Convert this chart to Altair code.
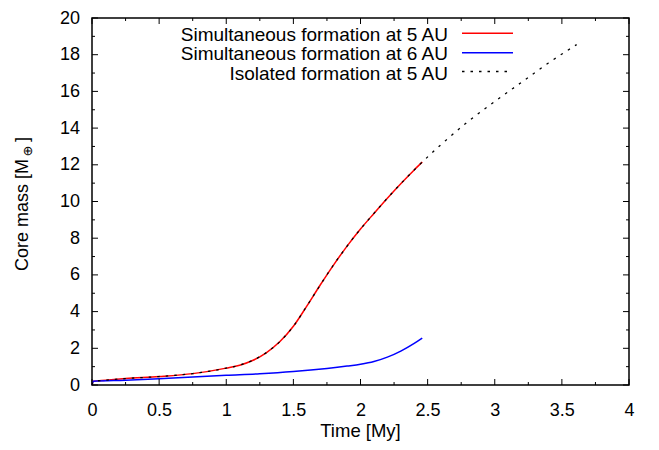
import altair as alt
import pandas as pd

# ---- data ----
red_t = [0, 0.01, 0.1, 0.25, 0.5, 0.75, 1.0, 1.1, 1.2, 1.3, 1.4, 1.5, 1.6, 1.7, 1.8, 1.9, 2.0, 2.1, 2.2, 2.3, 2.4, 2.46]
red_m = [0, 0.2, 0.26, 0.35, 0.46, 0.62, 0.92, 1.08, 1.35, 1.77, 2.37, 3.2, 4.3, 5.45, 6.55, 7.57, 8.5, 9.35, 10.18, 10.97, 11.72, 12.15]

blue_t = [0, 0.01, 0.25, 0.5, 0.75, 1.0, 1.25, 1.5, 1.75, 1.9, 2.0, 2.1, 2.2, 2.3, 2.4, 2.46]
blue_m = [0, 0.2, 0.26, 0.34, 0.44, 0.53, 0.61, 0.73, 0.9, 1.03, 1.13, 1.28, 1.52, 1.85, 2.27, 2.56]

iso_t = [0, 0.01, 0.1, 0.25, 0.5, 0.75, 1.0, 1.1, 1.2, 1.3, 1.4, 1.5, 1.6, 1.7, 1.8, 1.9, 2.0, 2.1, 2.2, 2.3, 2.4, 2.46,
         2.6, 2.8, 3.0, 3.2, 3.4, 3.61]
iso_m = [0, 0.2, 0.26, 0.35, 0.46, 0.62, 0.92, 1.08, 1.35, 1.77, 2.37, 3.2, 4.3, 5.45, 6.55, 7.57, 8.5, 9.35, 10.18, 10.97, 11.72, 12.15,
         13.1, 14.35, 15.45, 16.5, 17.55, 18.55]

series_labels = ["Simultaneous formation at 5 AU", "Simultaneous formation at 6 AU", "Isolated formation at 5 AU"]

x_major = [0, 0.5, 1, 1.5, 2, 2.5, 3, 3.5, 4]
x_minor = [0.25, 0.75, 1.25, 1.75, 2.25, 2.75, 3.25, 3.75]
y_major = [0, 2, 4, 6, 8, 10, 12, 14, 16, 18, 20]
y_minor = [1, 3, 5, 7, 9, 11, 13, 15, 17, 19]

# ---- layout ----
W, H = 537, 367
TOP = 18  # plot top in page pixels
FONT = "Liberation Sans"

xs = alt.Scale(domain=[0, 4], nice=False, zero=False)
ys = alt.Scale(domain=[0, 20], nice=False, zero=False)

x_axis = alt.Axis(values=x_major, format="~g", ticks=False, tickSize=0, grid=False,
                  domain=False, labelFont=FONT, labelFontSize=18, labelColor="black",
                  labelBaseline="alphabetic", labelPadding=30, title=None, labelFlush=False)
y_axis = alt.Axis(values=y_major, format="d", ticks=False, tickSize=0, grid=False,
                  domain=False, labelFont=FONT, labelFontSize=18, labelColor="black",
                  labelPadding=12.5, title=None, labelFlush=False)


def X(field):
    return alt.X(field, type="quantitative", scale=xs, axis=x_axis)


def Y(field):
    return alt.Y(field, type="quantitative", scale=ys, axis=y_axis)


red_df = pd.DataFrame({"t": red_t, "m": red_m})
blue_df = pd.DataFrame({"t": blue_t, "m": blue_m})
iso_df = pd.DataFrame({"t": iso_t, "m": iso_m})

red = alt.Chart(red_df).mark_line(color="#ff0000", strokeWidth=1.5, interpolate="monotone").encode(
    x=X("t"), y=Y("m"), order="t:Q")
blue = alt.Chart(blue_df).mark_line(color="#0000ff", strokeWidth=1.5, interpolate="monotone").encode(
    x=X("t"), y=Y("m"), order="t:Q")
iso = alt.Chart(iso_df).mark_line(color="black", strokeWidth=1.3, strokeDash=[2.5, 6],
                                  interpolate="monotone").encode(
    x=X("t"), y=Y("m"), order="t:Q")


# ---- inward, mirrored ticks ----
def xticks(vals, length):
    d = pd.DataFrame({"t": vals})
    b = alt.Chart(d).mark_rule(color="black", strokeWidth=1).encode(
        x=X("t"), y=alt.value(H), y2=alt.value(H - length))
    t = alt.Chart(d).mark_rule(color="black", strokeWidth=1).encode(
        x=X("t"), y=alt.value(0), y2=alt.value(length))
    return [b, t]


def yticks(vals, length):
    d = pd.DataFrame({"m": vals})
    l = alt.Chart(d).mark_rule(color="black", strokeWidth=1).encode(
        y=Y("m"), x=alt.value(0), x2=alt.value(length))
    r = alt.Chart(d).mark_rule(color="black", strokeWidth=1).encode(
        y=Y("m"), x=alt.value(W), x2=alt.value(W - length))
    return [l, r]


tick_layers = xticks(x_major, 6) + xticks(x_minor, 3) + yticks(y_major, 6) + yticks(y_minor, 3)

one = pd.DataFrame({"a": [0]})

# ---- legend (gnuplot style: label then sample), relative to the plot frame ----
leg_text_x = 356
leg_line_x1, leg_line_x2 = 370, 421
leg_base = [22.5, 41.8, 61.8]
leg_line_y = [15.2, 34.8, 53.5]
leg_styles = [dict(color="#ff0000", strokeWidth=1.5),
              dict(color="#0000ff", strokeWidth=1.5),
              dict(color="black", strokeWidth=1.3, strokeDash=[2.5, 6])]
legend_layers = []
for i, lab in enumerate(series_labels):
    legend_layers.append(alt.Chart(one).mark_text(text=lab, font=FONT, fontSize=19, align="right",
                                                  baseline="alphabetic", color="black").encode(
        x=alt.value(leg_text_x), y=alt.value(leg_base[i])))
    legend_layers.append(alt.Chart(one).mark_rule(**leg_styles[i]).encode(
        x=alt.value(leg_line_x1), x2=alt.value(leg_line_x2), y=alt.value(leg_line_y[i])))

# ---- axis titles ----
x_title = alt.Chart(one).mark_text(text="Time [My]", font=FONT, fontSize=18.5, align="center",
                                   baseline="alphabetic", color="black").encode(
    x=alt.value(W / 2), y=alt.value(436.7 - TOP))
y_title_a = alt.Chart(one).mark_text(text="Core mass [M", font=FONT, fontSize=18, angle=270, align="right",
                                     baseline="alphabetic", color="black").encode(
    x=alt.value(-64), y=alt.value(159 - TOP))
y_title_b = alt.Chart(one).mark_text(text="\u2295", font="DejaVu Sans", fontSize=13, angle=270, align="center",
                                     baseline="middle", color="black").encode(
    x=alt.value(-64.5), y=alt.value(151 - TOP))
y_title_c = alt.Chart(one).mark_text(text="]", font=FONT, fontSize=18, angle=270, align="left",
                                     baseline="alphabetic", color="black").encode(
    x=alt.value(-64), y=alt.value(142 - TOP))

chart = alt.layer(
    red, blue, iso, *tick_layers, *legend_layers, x_title, y_title_a, y_title_b, y_title_c
).properties(
    width=W, height=H,
    autosize=alt.AutoSizeParams(type="none"),
    padding={"left": 84, "top": TOP - 8, "right": 15, "bottom": 57},
    background="white",
).configure_view(stroke="black", strokeWidth=1.5)

chart.save("out.html", embed_options={"renderer": "svg", "actions": False})
